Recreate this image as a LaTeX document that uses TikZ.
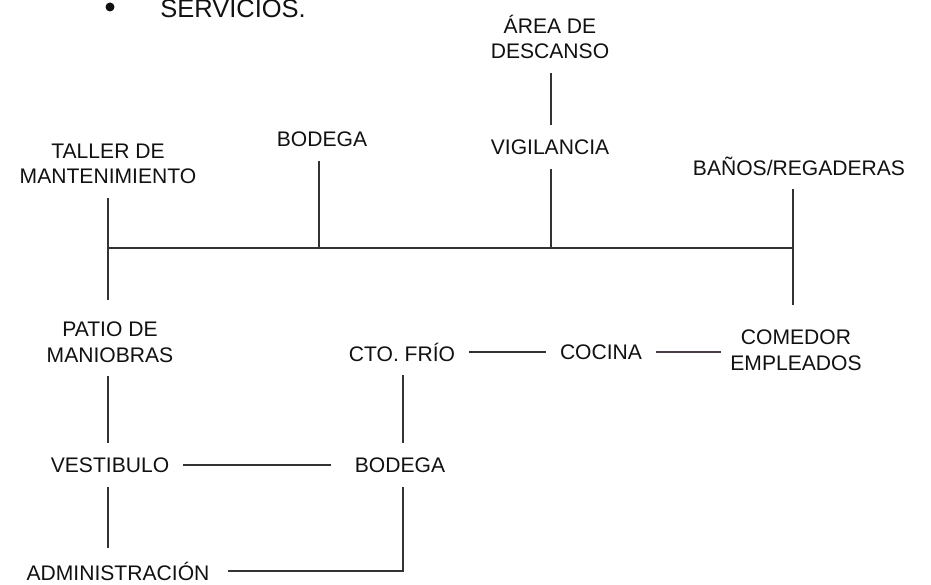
\documentclass[tikz,border=0pt]{standalone}
\usepackage{fontspec}
\setmainfont{Liberation Sans}
\usepackage{xcolor}
\usepackage{tikz}
\definecolor{SVInk}{HTML}{111111}
\definecolor{SVLine}{HTML}{333333}
\definecolor{SVMauve}{HTML}{4A3D4A}
\begin{document}
\begin{tikzpicture}[x=1cm,y=1cm,
  room/.style={align=center,text=SVInk,inner sep=1pt,outer sep=7pt,font=\fontsize{12}{14.6}\selectfont},
  link/.style={draw=SVLine,line width=1.1pt}]
\path[use as bounding box] (0,0) rectangle (18.62,11.70);
\clip (0,0) rectangle (18.62,11.70);
\fill[SVInk] (2.20,11.56) circle (0.09);
\node[anchor=base west,inner sep=0,text=SVInk,font=\fontsize{14.5}{16}\selectfont] (titulo) at (3.20,11.34) {SERVICIOS.};
\node[room] (taller) at (2.16,8.42) {TALLER DE\\MANTENIMIENTO};
\node[room] (bodegaA) at (6.44,8.92) {BODEGA};
\node[room] (area) at (11.00,10.96) {ÁREA DE\\DESCANSO};
\node[room] (vigilancia) at (11.00,8.76) {VIGILANCIA};
\node[room] (banos) at (15.98,8.38) {BAÑOS/REGADERAS};
\node[room] (patio) at (2.20,4.86) {PATIO DE\\MANIOBRAS};
\node[room] (vestibulo) at (2.20,2.40) {VESTIBULO};
\node[room] (admin) at (2.36,0.28) {ADMINISTRACIÓN};
\node[room] (ctofrio) at (8.04,4.66) {CTO. FRÍO};
\node[room] (bodegaB) at (8.00,2.40) {BODEGA};
\node[room] (cocina) at (12.02,4.66) {COCINA};
\node[room] (comedor) at (15.92,4.70) {COMEDOR\\EMPLEADOS};
\coordinate (busW) at (2.16,6.74);
\coordinate (busE) at (15.86,6.74);
\coordinate (tallerEnd) at (2.16,5.70);
\coordinate (banosEnd) at (15.86,5.60);
\draw[link] (busW) -- (busE);
\draw[link] (taller.south -| busW) -- (tallerEnd);
\draw[link] (bodegaA.south -| 6.38,0) -- (6.38,0 |- busW);
\draw[link] (area.south -| 11.02,0) -- (vigilancia.north -| 11.02,0);
\draw[link] (vigilancia.south -| 11.02,0) -- (11.02,0 |- busW);
\draw[link] (banos.south -| busE) -- (banosEnd);
\draw[link] (patio.south -| busW) -- (vestibulo.north -| busW);
\draw[link] (vestibulo.south -| busW) -- (admin.north -| busW);
\draw[link,shorten >=0.2cm] (vestibulo) -- (bodegaB);
\draw[link] (ctofrio.south -| 8.06,0) -- (bodegaB.north -| 8.06,0);
\draw[link,shorten <=0.1cm] (admin) -| (bodegaB.south -| 8.06,0);
\draw[link] (ctofrio) -- (cocina);
\draw[link,draw=SVMauve,shorten >=-0.1cm] (cocina) -- (comedor.west |- cocina);
\end{tikzpicture}
\end{document}
